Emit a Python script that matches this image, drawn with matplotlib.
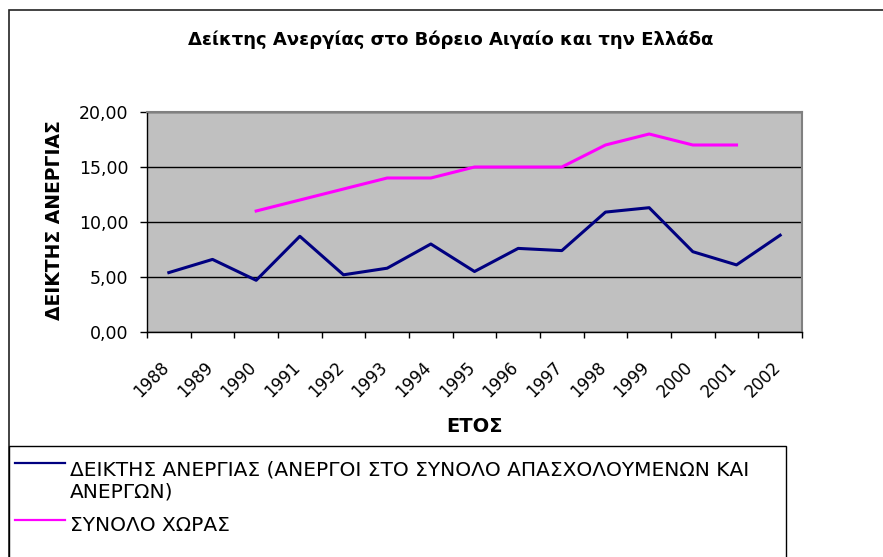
import matplotlib
matplotlib.use("Agg")
import matplotlib.pyplot as plt
from matplotlib.lines import Line2D
from matplotlib.patches import Rectangle
from matplotlib.ticker import FixedLocator, FuncFormatter
import numpy as np

# data
years = [str(y) for y in range(1988, 2003)]
region_rate = [5.4, 6.6, 4.7, 8.7, 5.2, 5.8, 8.0, 5.5, 7.6, 7.4, 10.9, 11.3, 7.3, 6.1, 8.8]
country_years = [str(y) for y in range(1990, 2002)]
country_rate = [11, 12, 13, 14, 14, 15, 15, 15, 17, 18, 17, 17]

region_label = "ΔΕΙΚΤΗΣ ΑΝΕΡΓΙΑΣ (ΑΝΕΡΓΟΙ ΣΤΟ ΣΥΝΟΛΟ ΑΠΑΣΧΟΛΟΥΜΕΝΩΝ ΚΑΙ\nΑΝΕΡΓΩΝ)"
country_label = "ΣΥΝΟΛΟ ΧΩΡΑΣ"

W, H = 883, 557
plt.rcParams["font.family"] = ["DejaVu Sans"]


def fx(x):
    return x / W


def fy(y):
    return 1 - y / H


fig = plt.figure(figsize=(W / 100, H / 100), dpi=100)
ax = fig.add_axes([fx(147), fy(332), (802 - 147) / W, (332 - 112) / H])
ax.set_facecolor("#C0C0C0")

x_region = [years.index(y) for y in years]
x_country = [years.index(y) for y in country_years]
l1, = ax.plot(x_region, region_rate, color="#000080", lw=2.2, zorder=3)
l2, = ax.plot(x_country, country_rate, color="#FF00FF", lw=2.2, zorder=3)

ax.set_xlim(-0.5, len(years) - 0.5)
ax.set_ylim(0, 20)
ax.set_yticks(np.arange(0, 21, 5))
ax.yaxis.set_major_formatter(FuncFormatter(lambda v, p: "{:.2f}".format(v).replace(".", ",")))
ax.yaxis.grid(True, color="black", lw=1)
ax.set_axisbelow(True)
ax.tick_params(axis="y", direction="out", length=5, width=1, pad=8.5, labelsize=12.5)

# category boundaries get the tick marks, labels sit a little left of the centres
ax.xaxis.set_major_locator(FixedLocator(np.arange(-0.5, len(years), 1.0)))
ax.xaxis.set_minor_locator(FixedLocator(np.arange(len(years)) - 0.2))
ax.set_xticklabels([], minor=False)
ax.set_xticklabels(years, minor=True)
ax.tick_params(axis="x", which="major", direction="out", length=4.3, width=1)
ax.tick_params(axis="x", which="minor", length=0, pad=19, labelsize=12)
for lab in ax.get_xticklabels(minor=True):
    lab.set_rotation(45)
    lab.set_rotation_mode("anchor")
    lab.set_ha("right")
    lab.set_va("top")

for side in ["left", "bottom"]:
    ax.spines[side].set_color("black")
    ax.spines[side].set_linewidth(1)
for side in ["top", "right"]:
    ax.spines[side].set_color("#808080")
    ax.spines[side].set_linewidth(1.5)

fig.text(fx(451), fy(40), "Δείκτης Ανεργίας στο Βόρειο Αιγαίο και την Ελλάδα",
         ha="center", va="center", fontsize=13, fontweight="bold")
fig.text(fx(55), fy(220), "ΔΕΙΚΤΗΣ ΑΝΕΡΓΙΑΣ", rotation=90,
         ha="center", va="center", fontsize=13.5, fontweight="bold")
fig.text(fx(474), fy(427), "ΕΤΟΣ", ha="center", va="center",
         fontsize=14, fontweight="bold")

# chart frame and legend box (cut by the picture edge, as in the original)
fig.patches.append(Rectangle((fx(9), -0.2), 2, fy(10) + 0.2, transform=fig.transFigure,
                             fill=False, edgecolor="#222222", lw=1.2))
fig.patches.append(Rectangle((fx(9), -0.2), fx(786) - fx(9), fy(446) + 0.2,
                             transform=fig.transFigure, fill=False,
                             edgecolor="black", lw=1))

# legend entries (y_base = baseline of the last text line)
for line, label, y_line, y_base in [(l1, region_label, 463, 497), (l2, country_label, 520, 531)]:
    fig.add_artist(Line2D([fx(15), fx(65)], [fy(y_line), fy(y_line)],
                          transform=fig.transFigure, color=line.get_color(), lw=1.6))
    fig.text(fx(70), fy(y_base), label, ha="left", va="baseline", fontsize=14.5,
             linespacing=1.2)

fig.savefig("out.png", dpi=100)
